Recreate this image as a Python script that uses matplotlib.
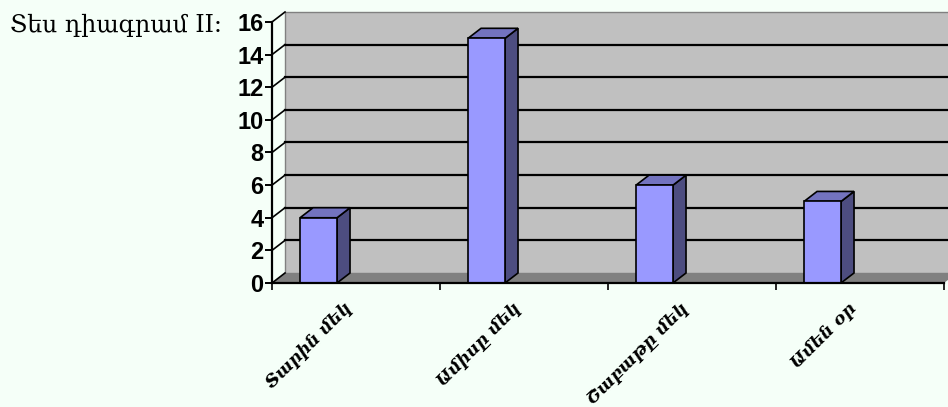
import matplotlib
matplotlib.use("Agg")
import matplotlib.pyplot as plt
from matplotlib.patches import Polygon, Rectangle

title = "Տես դիագրամ II:"
categories = ["Տարին մեկ", "Ամիսը մեկ", "Շաբաթը մեկ", "Ամեն օր"]
values = [4, 15, 6, 5]
yticks = [0, 2, 4, 6, 8, 10, 12, 14, 16]

bg = "#F5FFF8"
wall = "#C0C0C0"
floor = "#808080"
front = "#9999FF"
side = "#4D4D80"
top = "#7373BF"

# depth offset of the 3D look, in data units
dx = 13 / 168
dy = 10 / 16.3
bar_off = 0.167
bar_w = 0.22

fig = plt.figure(figsize=(9.48, 4.07), dpi=100, facecolor=bg)
ax = fig.add_axes([272 / 948, (407 - 283) / 407, 672 / 948, 261 / 407])
ax.set_facecolor("none")
ax.set_xlim(0, len(categories))
ax.set_ylim(0, 16)

ymax = yticks[-1]
n = len(categories)

# back wall + floor
ax.add_patch(Polygon([(dx, dy), (n + dx, dy), (n + dx, ymax + dy), (dx, ymax + dy)],
                     closed=True, fc=wall, ec="#808080", lw=1, clip_on=False, zorder=0))
ax.add_patch(Polygon([(0, 0), (n, 0), (n + dx, dy), (dx, dy)],
                     closed=True, fc=floor, ec="none", clip_on=False, zorder=1))

# gridlines on the wall and the connectors on the side wall
for v in yticks[1:-1]:
    ax.plot([dx, n + dx], [v + dy, v + dy], color="black", lw=1.6, clip_on=False, zorder=1)
for v in yticks:
    ax.plot([0, dx], [v, v + dy], color="black", lw=1.2, clip_on=False, zorder=1)

# bars
for i, v in enumerate(values):
    x0 = i + bar_off
    ax.add_patch(Polygon([(x0 + bar_w, 0), (x0 + bar_w + dx, dy), (x0 + bar_w + dx, v + dy), (x0 + bar_w, v)],
                         closed=True, fc=side, ec="black", lw=1.2, clip_on=False, zorder=3))
    ax.add_patch(Polygon([(x0, v), (x0 + bar_w, v), (x0 + bar_w + dx, v + dy), (x0 + dx, v + dy)],
                         closed=True, fc=top, ec="black", lw=1.2, clip_on=False, zorder=3))
    ax.add_patch(Rectangle((x0, 0), bar_w, v, fc=front, ec="black", lw=1.2, clip_on=False, zorder=4))

for s in ["top", "right"]:
    ax.spines[s].set_visible(False)
for s in ["left", "bottom"]:
    ax.spines[s].set_linewidth(1.6)
    ax.spines[s].set_zorder(5)

ax.set_yticks(yticks)
ax.set_yticklabels([str(t) for t in yticks], fontsize=17, fontweight="bold",
                   family="Liberation Sans")
ax.tick_params(axis="y", length=5, width=1.4, pad=1)

ax.set_xticks(range(n + 1))
ax.set_xticklabels([])
ax.set_xticks([i + 0.5 for i in range(n)], minor=True)
ax.set_xticklabels(categories, minor=True, rotation=45, ha="right", va="top",
                   fontsize=12.5, fontweight="bold", fontstyle="italic", family="DejaVu Serif")
ax.tick_params(axis="x", which="minor", length=0, pad=12)
ax.tick_params(axis="x", which="major", length=5, width=1.2)

fig.text(10 / 948, 1 - 25 / 407, title, fontsize=17, family="DejaVu Serif",
         ha="left", va="center")

fig.savefig("out.png", dpi=100, facecolor=bg)
